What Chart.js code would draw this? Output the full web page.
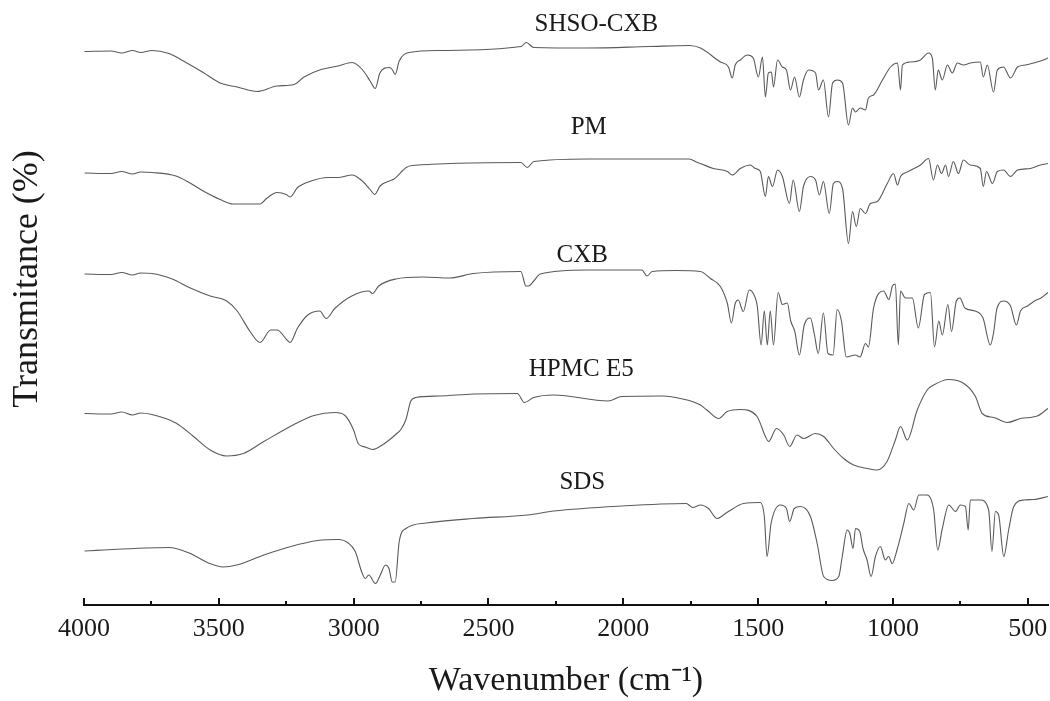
<!DOCTYPE html>
<html>
<head>
<meta charset="utf-8">
<script src="https://cdn.jsdelivr.net/npm/chart.js@4"></script>
<style>
  html, body { margin: 0; padding: 0; background: #fff; overflow: hidden; }
  #wrap { width: 1050px; height: 701px; position: relative; }
</style>
</head>
<body>
<div id="wrap"><canvas id="ftir"></canvas></div>
<script>
// FTIR spectra (stacked, offset transmittance)

const seriesNames = ['SHSO-CXB', 'PM', 'CXB', 'HPMC E5', 'SDS'];
const labelWn = [2100, 2128, 2152, 2156, 2152];
const labelT = [116.1, 95.5, 69.9, 47.2, 24.6];
const majorTicks = [4000, 3500, 3000, 2500, 2000, 1500, 1000, 500];

const shsoWn = [3998, 3900, 3860, 3820, 3790, 3748, 3685, 3622, 3558, 3495, 3432, 3358, 3284, 3221, 3184, 3121, 3058, 3006, 2968, 2939, 2920, 2902, 2868, 2857, 2846, 2831, 2794, 2683, 2379, 2360, 2332, 2131, 1905, 1755, 1714,
  1640, 1610, 1596, 1585, 1566, 1540, 1518, 1499, 1484, 1473, 1462, 1451, 1443, 1428, 1410, 1395, 1380, 1365, 1347, 1332, 1313, 1287, 1276, 1258, 1239, 1224, 1206, 1187, 1165, 1150, 1139, 1121, 1102, 1091, 1072,
  1039, 1009, 983, 972, 965, 935, 898, 868, 854, 843, 832, 817, 798, 780, 761, 739, 713, 676, 665, 650, 627, 613, 590, 564, 538, 509, 479, 442, 425];
const shsoT = [110.7, 110.8, 110.4, 110.9, 110.5, 110.9, 110.3, 108.5, 106.5, 104.4, 103.6, 102.7, 103.8, 104.1, 105.6, 107.1, 107.8, 108.5, 107.1, 104.8, 103.3, 106.5, 107.5, 107.1, 106.1, 108.8, 110.5, 110.9, 111.7, 112.5, 111.5, 111.4, 111.7, 111.9, 111.4,
  108.6, 107.6, 105.4, 108, 109, 110, 109.4, 105.6, 109.6, 101.6, 106.4, 106.6, 103.6, 109, 107.6, 107, 103, 105.6, 101.6, 105, 107, 106.4, 103, 105, 97.6, 104.4, 105, 104.4, 96, 99.4, 98.6, 99.4, 99, 101.4, 102,
  105, 107.6, 108.4, 103, 108, 108.6, 109, 110.4, 109.4, 103, 107, 105, 108, 106.4, 108.4, 108, 108.4, 108.6, 105.6, 108, 102.6, 107, 107.6, 105.4, 107.6, 108, 108.4, 109, 109.4];

const pmWn = [3998, 3900, 3860, 3820, 3790, 3748, 3659, 3610, 3558, 3495, 3447, 3347, 3321, 3284, 3250, 3236, 3208, 3158, 3095, 3058, 3006, 2968, 2939, 2922, 2902, 2868, 2850, 2805, 2783, 2380, 2356, 2332, 2131, 1755, 1729,
  1714, 1666, 1614, 1596, 1566, 1529, 1510, 1492, 1473, 1462, 1447, 1428, 1410, 1384, 1370, 1347, 1332, 1306, 1287, 1273, 1258, 1236, 1221, 1206, 1187, 1165, 1150, 1136, 1121, 1102, 1084, 1058,
  1021, 998, 983, 972, 943, 898, 868, 850, 835, 820, 805, 794, 776, 757, 739, 713, 676, 665, 653, 631, 613, 590, 564, 538, 490, 453, 425];
const pmT = [86.4, 86.3, 86.7, 86.2, 86.6, 86.5, 85.8, 84.5, 82.8, 81.1, 80.2, 80.2, 81.4, 82.5, 82.1, 81.6, 83.5, 84.8, 85.5, 85.5, 86, 84.8, 83.1, 82.1, 83.8, 84.8, 85.2, 87.5, 87.9, 88.5, 87.5, 88.7, 89.2, 89.2, 88.6,
  88.3, 87.3, 86.7, 86, 87.3, 88, 87.3, 86.7, 81.7, 85.7, 83.7, 87, 85.7, 80.3, 85, 78.7, 83.7, 85.7, 85, 82, 84.7, 78.3, 84.3, 84.7, 83.3, 72.3, 78.7, 75.7, 79.3, 78.3, 80.3, 80.7,
  84.3, 86.3, 84, 85.7, 86.7, 88, 89.3, 85, 88, 86.3, 88, 85.7, 88.7, 86.3, 89, 88, 87.3, 83.7, 86.7, 84.3, 86.7, 87, 85.7, 87, 87.3, 88, 88.3];

const cxbWn = [3998, 3900, 3860, 3820, 3790, 3748, 3673, 3610, 3532, 3471, 3432, 3384, 3347, 3308, 3284, 3247, 3236, 3208, 3170, 3126, 3102, 3070, 3007, 2944, 2930, 2907, 2844, 2744, 2643, 2556, 2380, 2361, 2351, 2332, 2308, 2131, 1931, 1912, 1893, 1805, 1714,
  1677, 1640, 1614, 1599, 1585, 1574, 1555, 1533, 1518, 1503, 1489, 1477, 1466, 1455, 1443, 1426, 1410, 1392, 1379, 1364, 1347, 1329, 1306, 1291, 1277, 1258, 1241, 1222, 1207, 1191, 1173, 1140, 1122, 1102, 1091, 1072,
  1035, 1015, 1002, 991, 980, 972, 954, 928, 906, 883, 861, 846, 830, 817, 796, 783, 765, 752, 733, 695, 666, 639, 627, 614, 589, 564, 542, 527, 501, 475, 451, 425];
const cxbT = [66.2, 66.1, 66.5, 66.0, 66.4, 66.3, 65.2, 63.5, 61.8, 60.8, 58.8, 54.7, 52.5, 55, 55, 53, 52.5, 55.4, 58, 58.8, 57.3, 59.3, 61.8, 62.8, 62.3, 63.8, 65.2, 65.6, 65.4, 66.3, 66.7, 63.8, 63.8, 64.8, 66.2, 67, 67, 65.8, 66.7, 66.9, 66.7,
  65.3, 63.7, 60.3, 56.4, 60.3, 61, 58.7, 63, 62.3, 59.7, 52, 58.8, 52, 58.8, 52, 62.5, 60.1, 60.4, 56.8, 54.7, 50, 56, 57.4, 54, 50.3, 58.4, 50.3, 50, 59.1, 56.8, 49.6, 50, 49.6, 52.3, 51.6, 59.4,
  62.8, 61.1, 63.8, 64.2, 52, 62.8, 61.4, 61.4, 55.4, 62.1, 62.5, 51.6, 56.8, 54, 60.1, 54.7, 60.8, 61.4, 59.4, 58.8, 57.4, 52, 54.4, 59.4, 60.8, 59.8, 56, 58.8, 59.8, 60.8, 61.4, 62.5];

const hpmcWn = [3998, 3900, 3860, 3820, 3790, 3748, 3659, 3596, 3532, 3471, 3409, 3333, 3221, 3147, 3070, 3032, 3001, 2982, 2957, 2931, 2894, 2868, 2844, 2825, 2806, 2788, 2769, 2681, 2556, 2393, 2367, 2332, 2257, 2056, 2006, 1855, 1780,
  1714, 1690, 1646, 1615, 1566, 1504, 1473, 1461, 1432, 1405, 1383, 1356, 1331, 1288, 1257, 1220, 1183, 1146, 1096, 1059, 1022, 991, 972, 947, 910, 873, 849, 793, 737, 694, 669, 626, 576, 527, 465, 425];
const hpmcT = [38.3, 38.2, 38.6, 38.0, 38.4, 38.1, 36.4, 33.8, 31, 29.8, 30.3, 32.7, 36.1, 37.9, 38.5, 37.9, 35.1, 32.2, 31.6, 31.1, 32, 33, 34.1, 35.1, 37.1, 40.8, 41.5, 41.8, 42.2, 42.3, 40.5, 41.5, 42, 40.8, 41.7, 41.8, 41.2,
  40, 39, 37.3, 38.7, 39.1, 37.7, 33.7, 32.7, 35.3, 34, 31.7, 34, 33.3, 34.3, 33.7, 31.3, 29.3, 28, 27.3, 27, 28.7, 33, 35.7, 33, 39, 43, 44, 45.1, 44.3, 41.7, 38.3, 37.5, 36.5, 37.3, 37.8, 39.3];

const sdsWn = [3998, 3685, 3610, 3534, 3484, 3434, 3333, 3233, 3133, 3058, 3020, 2994, 2970, 2957, 2944, 2919, 2901, 2882, 2869, 2857, 2846, 2831, 2806, 2731, 2556, 2355, 2257, 2006, 1767, 1742,
  1714, 1684, 1652, 1616, 1554, 1492, 1477, 1467, 1452, 1418, 1395, 1383, 1366, 1343, 1306, 1281, 1257, 1226, 1201, 1188, 1170, 1160, 1148, 1139, 1123, 1111, 1096, 1081, 1065, 1047, 1028, 1016, 1003, 985,
  960, 941, 923, 904, 873, 849, 834, 818, 793, 768, 750, 731, 721, 713, 676, 645, 633, 620, 608, 589, 571, 552, 515, 477, 425];
const sdsT = [10.8, 11.5, 10.4, 8.3, 7.6, 8, 10, 11.7, 12.9, 13.1, 12.4, 10.7, 6.6, 5.3, 6, 4.3, 6, 8, 7.3, 4.6, 4.6, 12.7, 15.3, 16.4, 17.3, 18, 18.8, 19.8, 20.3, 19.5,
  20, 19.3, 17.3, 18.5, 20.3, 20.5, 17.7, 9.7, 16.3, 20, 19.3, 16.7, 19.3, 19.7, 17.7, 12.3, 5.7, 4.9, 5.7, 9.7, 15, 14.3, 11.3, 15.3, 14.7, 11.3, 9, 5.7, 9.7, 11.7, 9, 9.7, 8.3, 11,
  16.3, 20.3, 19, 22, 22, 19, 11, 15, 20, 18.7, 20, 19.7, 15, 21, 21, 19, 10.7, 18.7, 18, 9.7, 15, 19.7, 21, 21.1, 21.7];

const allWn = [shsoWn, pmWn, cxbWn, hpmcWn, sdsWn];
const allT = [shsoT, pmT, cxbT, hpmcT, sdsT];

const serif = "'Liberation Serif', 'Times New Roman', serif";

// upward tick marks on the x axis + trace names + y title
const ftirDecor = {
  id: 'ftirDecor',
  afterDraw(chart) {
    const ctx = chart.ctx;
    const xs = chart.scales.x;
    const ys = chart.scales.y;
    ctx.save();
    ctx.strokeStyle = '#111';
    ctx.lineWidth = 2;
    xs.ticks.forEach(t => {
      if (t.value % 250 !== 0) return;
      const len = t.value % 500 === 0 ? 7 : 4;
      const x = Math.round(xs.getPixelForValue(t.value));
      ctx.beginPath();
      ctx.moveTo(x, xs.top);
      ctx.lineTo(x, xs.top - len);
      ctx.stroke();
    });

    ctx.fillStyle = '#1a1a1a';
    ctx.font = '25px ' + serif;
    ctx.textAlign = 'center';
    ctx.textBaseline = 'middle';
    seriesNames.forEach((n, i) => {
      ctx.fillText(n, xs.getPixelForValue(labelWn[i]), ys.getPixelForValue(labelT[i]));
    });

    ctx.translate(37, 279);
    ctx.rotate(-Math.PI / 2);
    ctx.font = '36px ' + serif;
    ctx.textBaseline = 'alphabetic';
    ctx.fillText('Transmitance (%)', 0, 0);
    ctx.restore();
  }
};

const canvas = document.getElementById('ftir');
new Chart(canvas, {
  type: 'line',
  data: {
    datasets: seriesNames.map((n, i) => ({
      label: n,
      data: allWn[i].map((w, j) => ({ x: w, y: allT[i][j] })),
      borderColor: '#5a5a5a',
      borderWidth: 1.1,
      pointRadius: 0,
      cubicInterpolationMode: 'monotone',
      fill: false
    }))
  },
  options: {
    responsive: true,
    maintainAspectRatio: false,
    animation: false,
    layout: { padding: { left: 84, right: 2, top: 0, bottom: 0 } },
    plugins: { legend: { display: false }, tooltip: { enabled: false } },
    scales: {
      x: {
        type: 'linear',
        reverse: true,
        min: 425,
        max: 4000,
        afterFit: s => { s.paddingLeft = 0; s.paddingRight = 0; },
        grid: { display: false, drawTicks: false },
        border: { display: true, color: '#111', width: 2 },
        ticks: {
          stepSize: 250,
          includeBounds: false,
          autoSkip: false,
          maxRotation: 0,
          padding: 9,
          color: '#1a1a1a',
          font: { family: serif, size: 26 },
          callback: v => majorTicks.includes(v) ? String(v) : ''
        },
        title: {
          display: true,
          text: 'Wavenumber (cm\u207B\u00B9)',
          color: '#1a1a1a',
          font: { family: serif, size: 34 },
          padding: { top: 6, bottom: 0 }
        }
      },
      y: {
        display: false,
        min: 0,
        max: 121
      }
    }
  },
  plugins: [ftirDecor]
});
</script>
</body>
</html>
